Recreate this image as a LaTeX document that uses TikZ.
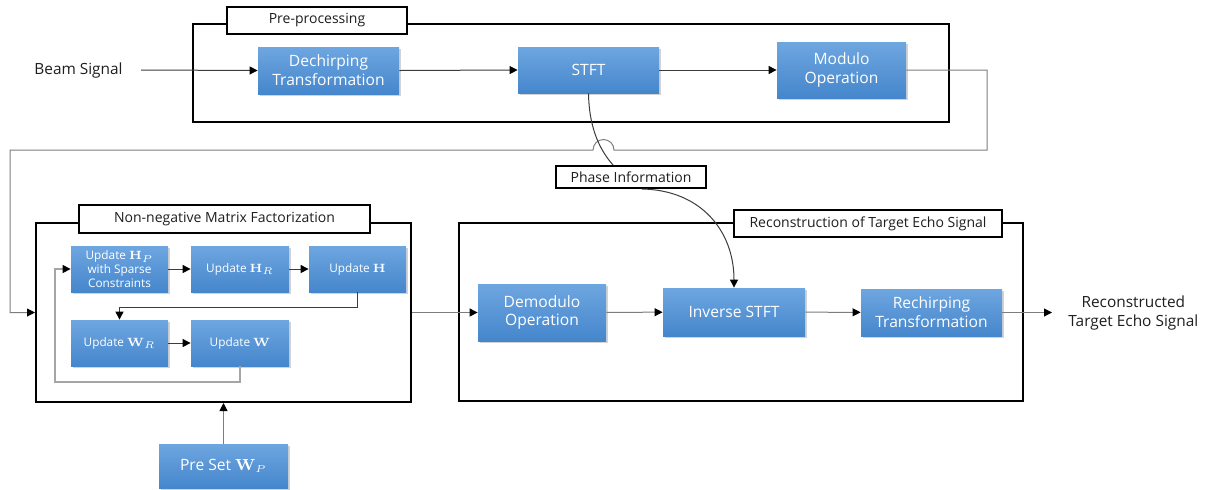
\documentclass[tikz,border=0pt]{standalone}
\usepackage[no-math]{fontspec}
\setmainfont{Open Sans}
\usetikzlibrary{arrows.meta,shadows,calc}
\definecolor{boxtop}{RGB}{110,166,224}
\definecolor{boxbot}{RGB}{69,134,204}
\definecolor{linedark}{RGB}{60,60,60}
\definecolor{linegray}{RGB}{125,125,125}
\definecolor{linelight}{RGB}{165,165,165}
\definecolor{txt}{RGB}{30,30,30}
\begin{document}
\begin{tikzpicture}[x=0.5pt,y=-0.5pt,
  bbox/.style={shade, top color=boxtop, bottom color=boxbot, text=white, align=center,
    inner sep=0pt, font=\fontsize{7.8}{9.4}\selectfont,
    drop shadow={shadow xshift=1.2pt,shadow yshift=-1.2pt,opacity=0.35}},
  sbox/.style={bbox, font=\fontsize{5.9}{7}\selectfont},
  frame/.style={draw=black, line width=1pt, inner sep=0pt},
  lab/.style={draw=black, fill=white, line width=1pt, inner sep=0pt, text=txt,
    font=\fontsize{7}{8}\selectfont},
  plain/.style={text=txt, font=\fontsize{7.7}{9.5}\selectfont},
  dk/.style={draw=linedark, line width=0.5pt},
  gr/.style={draw=linegray, line width=0.5pt},
  lt/.style={draw=linelight, line width=0.6pt},
  tip/.style={-{Triangle[length=4pt,width=4pt,color=black]}},
]
\useasboundingbox (0,0) rectangle (1213,489);

% frames
\node[frame, minimum width=378pt, minimum height=49pt] (pre) at (571,73) {};
\node[frame, minimum width=187.5pt, minimum height=89.5pt] (nmf) at (223.5,312.5) {};
\node[frame, minimum width=282pt, minimum height=89pt] (rec) at (741,312) {};

% long feedback line from Modulo to NMF (with hop)
\node[bbox, minimum width=64.5pt, minimum height=28pt] (modulo) at (841.5,70) {Modulo\\Operation};
\coordinate (c1) at (987,70);
\coordinate (c2) at (987,150);
\coordinate (h1) at (614,150);
\coordinate (c3) at (10,150);
\coordinate (c4) at (10,312.5);
\draw[gr,tip] (modulo.east) -- (c1) -- (c2) -- (h1)
  arc[start angle=0,end angle=-180,radius=10.5] -- (c3) -- (c4) -- (nmf.west);

% labels
\node[lab, minimum width=90pt, minimum height=13.5pt] (prelab) at (317,20) {Pre-processing};
\node[lab, minimum width=145.5pt, minimum height=14pt] (nmflab) at (224.5,219) {Non-negative Matrix Factorization};
\node[lab, minimum width=134pt, minimum height=13.5pt] (reclab) at (868,223.5) {Reconstruction of Target Echo Signal};
\node[lab, minimum width=75pt, minimum height=11pt] (phase) at (631,177) {Phase Information};

% pre-processing
\node[plain, anchor=east, inner xsep=9pt] (beam) at (141,70) {Beam Signal};
\node[bbox, minimum width=70.5pt, minimum height=23.5pt] (dech) at (328.5,70.5) {Dechirping\\Transformation};
\node[bbox, minimum width=70.5pt, minimum height=23pt] (stft) at (588.5,70) {STFT};
\draw[dk,tip] (beam.east) -- (dech.west);
\draw[dk,tip] (dech.east) -- (stft.west);
\draw[dk,tip] (stft.east) -- (modulo.west);

% NMF
\node[sbox, minimum width=48.5pt, minimum height=23pt] (hp) at (119.5,269) {Update $\mathbf{H}_P$\\with Sparse\\Constraints};
\node[sbox, minimum width=49pt, minimum height=23pt] (hr) at (240,269) {Update $\mathbf{H}_R$};
\node[sbox, minimum width=48.5pt, minimum height=23pt] (h) at (357.5,269) {Update $\mathbf{H}$};
\node[sbox, minimum width=48.5pt, minimum height=23pt] (wr) at (119.5,343) {Update $\mathbf{W}_R$};
\node[sbox, minimum width=49pt, minimum height=23pt] (w) at (240,343) {Update $\mathbf{W}$};
\draw[dk,tip] (hp) -- (hr);
\draw[dk,tip] (hr) -- (h);
\coordinate (k1) at (357.5,307);
\coordinate (k2) at (119.5,307);
\draw[dk,tip] (h.south) -- (k1) -- (k2) -- (wr.north);
\draw[dk,tip] (wr) -- (w);
\coordinate (l1) at (240,382);
\coordinate (l2) at (55,382);
\coordinate (l3) at (55,269);
\draw[lt,tip] (w.south) -- (l1) -- (l2) -- (l3) -- (hp.west);

\node[bbox, minimum width=64.5pt, minimum height=22pt] (preset) at (223.5,466) {Pre Set $\mathbf{W}_P$};
\draw[gr,tip] (preset.north) -- (preset.north |- nmf.south);

% reconstruction
\node[bbox, minimum width=64pt, minimum height=28.5pt] (demod) at (542,312.5) {Demodulo\\Operation};
\node[bbox, minimum width=71pt, minimum height=24pt] (istft) at (734,312) {Inverse STFT};
\node[bbox, minimum width=70.5pt, minimum height=23.5pt] (rech) at (931.5,312.5) {Rechirping\\Transformation};
\node[plain, anchor=west, inner xsep=8pt, align=center] (out) at (1052,312.5) {Reconstructed\\Target Echo Signal};
\draw[gr,tip] (nmf.east) -- (demod.west);
\draw[gr,tip] (demod) -- (istft);
\draw[gr,tip] (istft) -- (rech);
\draw[gr,tip] (rech.east) -- (out.west);

% phase information curves
\draw[dk] (stft.south) .. controls (589,125) and (598,148) .. ($(phase.north west)+(58,0)$);
\draw[dk,tip] ($(phase.south west)+(87,0)$) .. controls (700,190) and (734,230) .. (istft.north);
\end{tikzpicture}
\end{document}
